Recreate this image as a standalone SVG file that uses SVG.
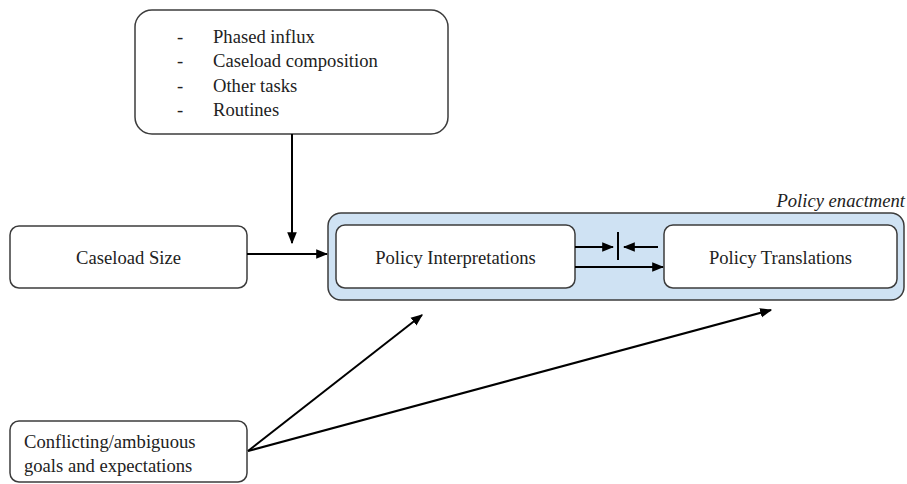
<svg xmlns="http://www.w3.org/2000/svg" width="907" height="484" viewBox="0 0 907 484">
  <defs>
    <marker id="arrow" viewBox="0 0 10 10" refX="9" refY="5" markerWidth="6" markerHeight="6" orient="auto" markerUnits="strokeWidth">
      <path d="M0,1 L10,5 L0,9 z" fill="#000"/>
    </marker>
    <style>
      .box { fill: #fff; stroke: #3c3c3c; stroke-width: 1.5; }
      .group { fill: #cfe2f3; stroke: #3c3c3c; stroke-width: 1.5; }
      .label { font-family: "Liberation Serif", "Times New Roman", serif; font-size: 18.6px; fill: #222; }
      .mid { text-anchor: middle; }
      .title { font-style: italic; text-anchor: end; }
      .conn { stroke: #000; stroke-width: 2; fill: none; }
      .conn-a { stroke: #000; stroke-width: 2; fill: none; marker-end: url(#arrow); }
    </style>
  </defs>

  <!-- Factors list -->
  <g id="factors">
    <rect class="box" x="135" y="10" width="313" height="124" rx="17"/>
    <text class="label" x="177" y="43">-</text>
    <text class="label" x="213" y="43">Phased influx</text>
    <text class="label" x="177" y="67">-</text>
    <text class="label" x="213" y="67">Caseload composition</text>
    <text class="label" x="177" y="92">-</text>
    <text class="label" x="213" y="92">Other tasks</text>
    <text class="label" x="177" y="116">-</text>
    <text class="label" x="213" y="116">Routines</text>
  </g>

  <!-- Caseload size -->
  <g id="caseload-size">
    <rect class="box" x="10" y="226" width="237" height="62" rx="9"/>
    <text class="label mid" x="128.5" y="264">Caseload Size</text>
  </g>

  <!-- Policy enactment container -->
  <g id="policy-enactment">
    <rect class="group" x="328" y="213" width="576" height="87" rx="13"/>
    <text class="label title" x="905" y="207">Policy enactment</text>
  </g>

  <g id="policy-interpretations">
    <rect class="box" x="336" y="225" width="239" height="63" rx="9"/>
    <text class="label mid" x="455.5" y="264">Policy Interpretations</text>
  </g>

  <g id="policy-translations">
    <rect class="box" x="664" y="225" width="233" height="63" rx="9"/>
    <text class="label mid" x="780.5" y="264">Policy Translations</text>
  </g>

  <!-- Conflicting goals -->
  <g id="conflicting-goals">
    <rect class="box" x="10" y="421" width="237" height="61" rx="9"/>
    <text class="label" x="24" y="448">Conflicting/ambiguous</text>
    <text class="label" x="24" y="472">goals and expectations</text>
  </g>

  <!-- Connectors -->
  <g id="connectors">
    <line class="conn-a" x1="292" y1="134" x2="292" y2="243"/>
    <line class="conn-a" x1="247" y1="254" x2="327" y2="254"/>
    <line class="conn-a" x1="575" y1="247" x2="613" y2="247"/>
    <line class="conn" x1="618" y1="232" x2="618" y2="260"/>
    <line class="conn-a" x1="658" y1="247" x2="624" y2="247"/>
    <line class="conn-a" x1="575" y1="267" x2="663" y2="267"/>
    <line class="conn-a" x1="248" y1="451" x2="422" y2="315"/>
    <line class="conn-a" x1="248" y1="451" x2="771" y2="310"/>
  </g>
</svg>
